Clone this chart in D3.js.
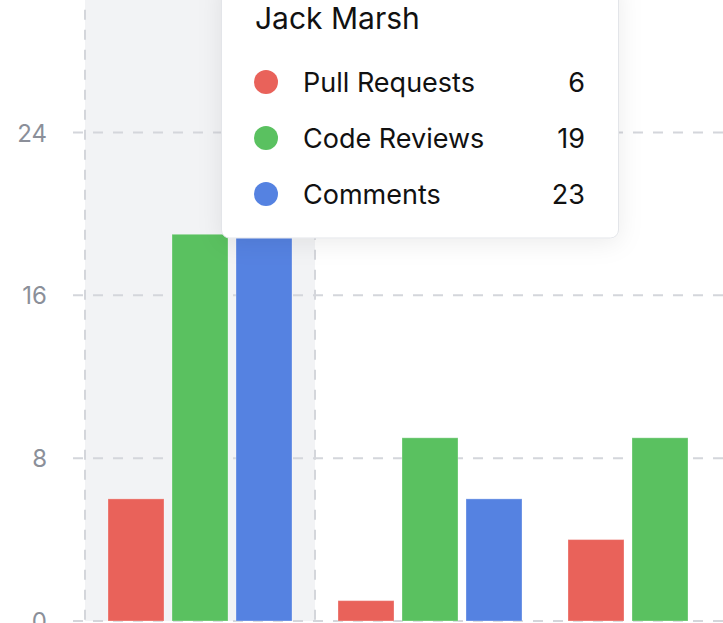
<!DOCTYPE html>
<html>
<head>
<meta charset="utf-8">
<script src="https://cdn.jsdelivr.net/npm/d3@7"></script>
<style>
  html, body { margin: 0; padding: 0; background: #ffffff; overflow: hidden; }
  svg { display: block; font-family: Inter, "Noto Sans", sans-serif; }
</style>
</head>
<body>
<svg id="chart" width="723" height="623"></svg>
<script>
// ---- data ----
const categories = ["Jack Marsh", "Member 2", "Member 3"];
const seriesNames = ["Pull Requests", "Code Reviews", "Comments"];
const seriesColors = ["#E9625A", "#5AC160", "#5582E1"];
const pullRequests = [6, 1, 4];
const codeReviews = [19, 9, 9];
const comments = [23, 6, 0];
const yTicks = [0, 8, 16, 24];
const highlighted = "Jack Marsh";

const values = [pullRequests, codeReviews, comments];

const W = 723, H = 623;
const svg = d3.select("#chart");

const x = d3.scaleBand().domain(categories).range([85, 85 + 230 * categories.length]).padding(0);
const xs = d3.scaleBand().domain(seriesNames).range([23, x.bandwidth() - 23]).paddingInner(0.125).paddingOuter(0);
const y = d3.scaleLinear().domain([0, 32]).range([621, 621 - 32 * 20.354]);

// highlight band
svg.append("rect")
  .attr("x", x(highlighted)).attr("y", y(32))
  .attr("width", x.bandwidth()).attr("height", y(0) - y(32))
  .attr("fill", "#F2F3F5");

// horizontal grid
const grid = svg.append("g");
grid.selectAll("line.h").data(yTicks).join("line")
  .attr("x1", 73).attr("x2", W)
  .attr("y1", d => y(d)).attr("y2", d => y(d))
  .attr("stroke", "#D4D6DB").attr("stroke-width", 2)
  .attr("stroke-dasharray", "10,10");

// vertical dividers bounding the highlighted band
const dividers = [x(highlighted), x(highlighted) + x.bandwidth()];
grid.selectAll("line.v").data(dividers).join("line")
  .attr("x1", d => d).attr("x2", d => d)
  .attr("y1", y(32)).attr("y2", y(0))
  .attr("stroke", "#D4D6DB").attr("stroke-width", 2)
  .attr("stroke-dasharray", "10,10");

// y tick labels via axis
const yAxis = d3.axisLeft(y).tickValues(yTicks).tickSize(0).tickPadding(0);
const ag = svg.append("g").attr("transform", "translate(47,0)").call(yAxis);
ag.select(".domain").remove();
ag.selectAll("text").attr("font-size", 24).attr("fill", "#8B8F99")
  .attr("font-family", "Inter, sans-serif").attr("dy", "0.36em");

// bars
const groups = svg.append("g").selectAll("g").data(categories).join("g")
  .attr("transform", d => `translate(${x(d)},0)`);
groups.selectAll("rect").data((c, ci) => seriesNames.map((s, si) => ({ s, si, v: values[si][ci] })))
  .join("rect")
  .filter(d => d.v > 0)
  .attr("x", d => xs(d.s)).attr("width", xs.bandwidth())
  .attr("y", d => y(d.v)).attr("height", d => y(0) - y(d.v))
  .attr("fill", d => seriesColors[d.si])
  .attr("stroke", "rgba(255,255,255,0.3)").attr("stroke-width", 1);

// tooltip
const defs = svg.append("defs");
const f = defs.append("filter").attr("id", "shadow").attr("x", "-20%").attr("y", "-20%").attr("width", "140%").attr("height", "140%");
f.append("feDropShadow").attr("dx", 0).attr("dy", 4).attr("stdDeviation", 12)
  .attr("flood-color", "#000").attr("flood-opacity", 0.08);

const hi = categories.indexOf(highlighted);
const tip = svg.append("g");
tip.append("rect").attr("x", 221.5).attr("y", -20).attr("width", 397).attr("height", 258)
  .attr("rx", 8).attr("fill", "#fff").attr("stroke", "#E3E5E9").attr("stroke-width", 1)
  .attr("filter", "url(#shadow)");
tip.append("text").attr("x", 255).attr("y", 28.5).attr("font-size", 30).attr("fill", "#111")
  .text(highlighted);
const rows = tip.selectAll("g.row").data(seriesNames).join("g")
  .attr("transform", (d, i) => `translate(0,${i * 56})`);
rows.append("circle").attr("cx", 266).attr("cy", 82).attr("r", 12).attr("fill", (d, i) => seriesColors[i]);
rows.append("text").attr("x", 303).attr("y", 92).attr("font-size", 27).attr("fill", "#111").text(d => d);
rows.append("text").attr("x", 585).attr("y", 92).attr("font-size", 27).attr("fill", "#111")
  .attr("text-anchor", "end").text((d, i) => values[i][hi]);
</script>
</body>
</html>
